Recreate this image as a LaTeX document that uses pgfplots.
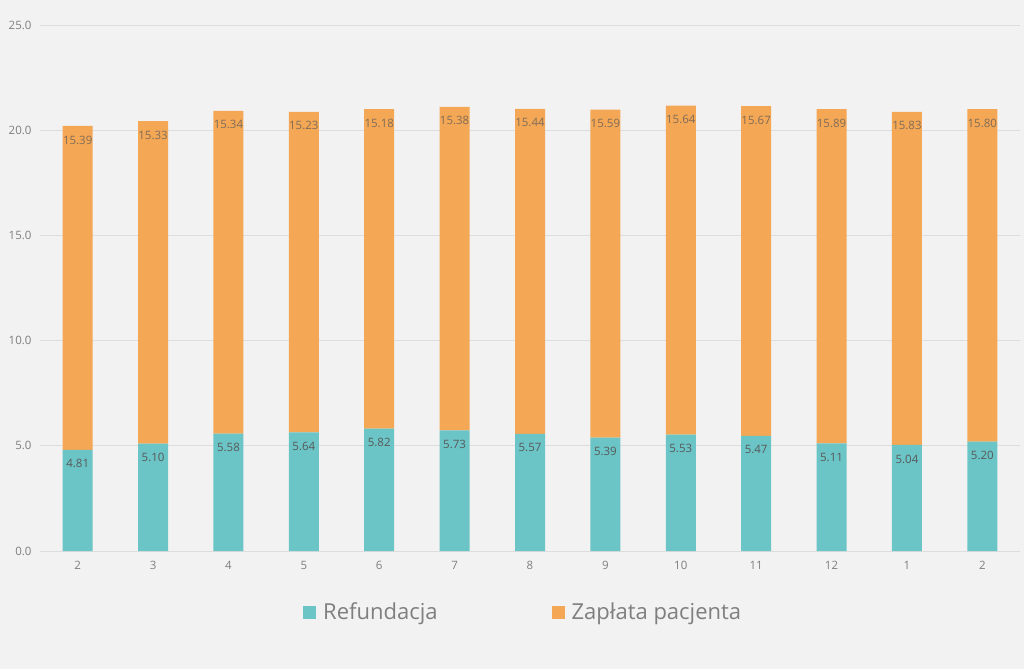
\documentclass[border=0pt]{standalone}
\usepackage{pgfplots}
\pgfplotsset{compat=1.18}
\usepackage{pgfplotstable}
\usepackage{fontspec}
\setmainfont{Open Sans}

\definecolor{bgc}{HTML}{F2F2F2}
\definecolor{refc}{HTML}{6BC4C6}
\definecolor{zapc}{HTML}{F4A755}
\definecolor{gridc}{HTML}{DDDDDD}
\definecolor{tickc}{HTML}{7F7F7F}
\definecolor{labc}{HTML}{595959}

% month, refundacja, zaplata pacjenta
\pgfplotstableread{
x ref zap
0 4.81 15.39
1 5.10 15.33
2 5.58 15.34
3 5.64 15.23
4 5.82 15.18
5 5.73 15.38
6 5.57 15.44
7 5.39 15.59
8 5.53 15.64
9 5.47 15.67
10 5.11 15.89
11 5.04 15.83
12 5.20 15.80
}\data

\pgfplotsset{
  common/.style={
    at={(40pt,118pt)}, anchor=south west,
    scale only axis,
    width=980pt, height=526pt,
    xmin=-0.5, xmax=12.5,
    ymin=0, ymax=25,
  },
}

\begin{document}
\begin{tikzpicture}
\fill[bgc] (0,0) rectangle (1024pt,669pt);
\begin{axis}[
    common,
    ybar stacked,
    bar width=30pt,
    ytick={0,5,...,25},
    xtick=data,
    xticklabels={2,3,4,5,6,7,8,9,10,11,12,1,2},
    axis line style={draw=none},
    major tick length=0pt,
    ymajorgrids,
    grid style={gridc, line width=0.8pt},
    tick label style={font=\fontsize{11.5}{13}\selectfont, text=tickc},
    yticklabel style={xshift=-5pt, /pgf/number format/fixed, /pgf/number format/zerofill, /pgf/number format/precision=1},
    xticklabel style={yshift=-7pt},
    /pgf/number format/assume math mode=true,
    legend style={
        at={(0.493,-0.116)}, anchor=center,
        draw=none, fill=none,
        font=\fontsize{22}{26}\selectfont, text=tickc,
        /tikz/every even column/.append style={column sep=112pt},
        /tikz/every odd column/.append style={column sep=5pt},
    },
    legend columns=2,
    legend image code/.code={\fill[#1] (0pt,-6.5pt) rectangle (13pt,6.5pt);},
]
\addplot[fill=refc, draw=none] table[x=x, y=ref] {\data};
\addplot[fill=zapc, draw=none] table[x=x, y=zap] {\data};
\legend{Refundacja, Zapłata pacjenta}
\end{axis}
% value labels, placed at the top of each segment
\begin{axis}[
    common,
    hide axis,
    point meta=explicit,
    nodes near coords,
    nodes near coords style={
        font=\fontsize{11.5}{13}\selectfont, text=labc, anchor=center, yshift=-14pt,
        /pgf/number format/fixed, /pgf/number format/zerofill, /pgf/number format/precision=2,
        /pgf/number format/assume math mode=true},
]
\addplot[draw=none, mark=none] table[x=x, y=ref, meta=ref] {\data};
\addplot[draw=none, mark=none, nodes near coords style={text opacity=0.75}]
    table[x=x, y expr=\thisrow{ref}+\thisrow{zap}, meta=zap] {\data};
\end{axis}
\end{tikzpicture}
\end{document}
